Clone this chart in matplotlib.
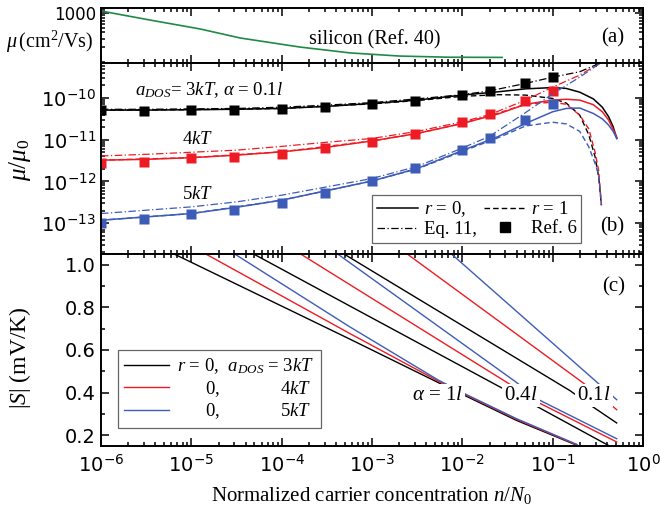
import numpy as np
import matplotlib.pyplot as plt
from matplotlib.lines import Line2D
from matplotlib.ticker import FuncFormatter, FixedLocator, MultipleLocator, NullFormatter

plt.rcParams['font.family'] = 'DejaVu Sans'
plt.rcParams['mathtext.fontset'] = 'custom'
plt.rcParams['mathtext.rm'] = 'Liberation Serif'
plt.rcParams['mathtext.it'] = 'Liberation Serif:italic'
plt.rcParams['mathtext.sf'] = 'DejaVu Sans'
plt.rcParams['mathtext.bf'] = 'Liberation Serif:bold'

BLACK, RED, BLUE, GREEN = 'black', '#ed1c24', '#3d5cb8', '#1f8a45'
SERIF = 'Liberation Serif'

# (a) silicon mobility, cm^2/Vs
si_logn = [-6, -5.46, -4.9, -4.46, -3.8, -3.24, -2.69, -2.14, -1.56]
si_mu = [1099, 719, 471, 309, 202, 153, 132, 125, 124]

# (b) log10(mu/mu0)
logn_r0 = [-6, -5.5, -5, -4.5, -4, -3.5, -3, -2.5, -2, -1.6, -1.3, -1.0, -0.85, -0.7, -0.55, -0.45, -0.38, -0.33, -0.29]
black_r0 = [-10.29, -10.29, -10.28, -10.27, -10.25, -10.2, -10.13, -10.05, -9.93, -9.85, -9.78, -9.75, -9.77, -9.86, -10.02, -10.22, -10.45, -10.69, -10.97]
red_r0 = [-11.49, -11.47, -11.43, -11.37, -11.29, -11.18, -11.03, -10.85, -10.61, -10.38, -10.15, -10.05, -10.03, -10.05, -10.16, -10.33, -10.53, -10.75, -10.94]
blue_r0 = [-12.93, -12.85, -12.77, -12.62, -12.45, -12.22, -11.99, -11.69, -11.26, -10.92, -10.61, -10.33, -10.25, -10.24, -10.37, -10.5, -10.65, -10.8, -10.97]

logn_r1 = [-6, -5, -4, -3, -2.5, -2, -1.6, -1.3, -1.0, -0.85, -0.7, -0.6, -0.53, -0.49, -0.46]
black_r1 = [-10.29, -10.28, -10.25, -10.14, -10.06, -9.96, -9.92, -9.93, -10.01, -10.12, -10.41, -10.88, -11.41, -11.9, -12.57]
red_r1 = [-11.49, -11.43, -11.29, -11.03, -10.85, -10.61, -10.36, -10.15, -10.1, -10.15, -10.41, -10.74, -11.3, -11.75, -12.57]
blue_r1 = [-12.93, -12.77, -12.45, -11.99, -11.7, -11.28, -10.95, -10.67, -10.58, -10.62, -10.8, -11.17, -11.57, -11.85, -12.57]

logn_eq = [-6, -5.5, -5, -4.5, -4, -3.5, -3, -2.5, -2, -1.7, -1.3, -1.0, -0.7, -0.47]
black_eq = [-10.27, -10.27, -10.26, -10.25, -10.22, -10.17, -10.11, -10.02, -9.92, -9.83, -9.65, -9.5, -9.37, -9.16]
red_eq = [-11.39, -11.35, -11.3, -11.25, -11.16, -11.06, -10.97, -10.8, -10.57, -10.4, -10.05, -9.74, -9.45, -9.16]
blue_eq = [-12.77, -12.69, -12.61, -12.49, -12.33, -12.13, -11.93, -11.64, -11.2, -10.92, -10.35, -9.9, -9.5, -9.16]

n_ref6 = [1e-6, 3e-6, 1e-5, 3e-5, 1e-4, 3e-4, 1e-3, 3e-3, 1e-2, 2e-2, 5e-2, 1e-1]
black_ref6 = [-10.29, -10.31, -10.29, -10.29, -10.26, -10.21, -10.14, -10.07, -9.92, -9.83, -9.65, -9.50]
red_ref6 = [-11.55, -11.53, -11.45, -11.41, -11.34, -11.21, -11.05, -10.86, -10.58, -10.39, -10.07, -9.82]
blue_ref6 = [-12.99, -12.91, -12.77, -12.69, -12.51, -12.27, -11.99, -11.67, -11.25, -10.97, -10.53, -10.15]

# (c) |S| in mV/K for alpha = 1l, 0.4l, 0.1l
logn_1l_k, S_1l_k = [-5.19, -3.24, -2.27, -1.94, -1.4, -0.73], [1.05, 0.65, 0.448, 0.38, 0.27, 0.153]
logn_1l_r, S_1l_r = [-4.84, -3.24, -2.27, -1.94, -1.4, -0.73], [1.05, 0.676, 0.455, 0.385, 0.275, 0.155]
logn_1l_b, S_1l_b = [-4.52, -3.24, -2.27, -1.94, -1.4, -0.73], [1.05, 0.707, 0.46, 0.388, 0.278, 0.157]
logn_04l_k, S_04l_k = [-4.31, -3.24, -1.58, -1.195, -0.384], [1.05, 0.805, 0.426, 0.34, 0.153]
logn_04l_r, S_04l_r = [-3.79, -3.24, -1.51, -1.14, -0.291], [1.05, 0.905, 0.449, 0.35, 0.169]
logn_04l_b, S_04l_b = [-3.38, -1.42, -1.14, -0.291], [1.05, 0.454, 0.364, 0.184]
logn_01l_k, S_01l_k = [-3.31, -0.81, -0.55, -0.291], [1.05, 0.41, 0.332, 0.258]
logn_01l_r, S_01l_r = [-2.61, -0.66, -0.346, -0.291], [1.05, 0.445, 0.34, 0.32]
logn_01l_b, S_01l_b = [-2.12, -0.51, -0.291], [1.05, 0.449, 0.367]

x_major = [1e-6, 1e-5, 1e-4, 1e-3, 1e-2, 1e-1, 1]

DD = (6, 2, 1, 2)
DA = (4, 2.2)


def sci(v, pos):
    return r'$\mathsf{10^{%d}}$' % int(round(np.log10(v)))


def log_minors(lo, hi):
    return [m * 10.0 ** e for e in range(lo, hi) for m in range(2, 10)]


fig = plt.figure(figsize=(6.6, 5.15), dpi=100)
L, W = 0.153, 0.8212
ax_a = fig.add_axes([L, 0.8777, W, 0.1068])
ax_b = fig.add_axes([L, 0.5068, W, 0.3709], sharex=ax_a)
ax_c = fig.add_axes([L, 0.1340, W, 0.3728], sharex=ax_a)

ax_a.set_xscale('log')
ax_a.set_xlim(1e-6, 1)
ax_a.xaxis.set_major_locator(FixedLocator(x_major))
ax_a.xaxis.set_minor_locator(FixedLocator(log_minors(-6, 0)))
for ax in (ax_a, ax_b, ax_c):
    ax.tick_params(which='both', direction='in', top=True, right=True, width=1.1, labelsize=14)
    ax.tick_params(which='major', length=5.5)
    ax.tick_params(which='minor', length=2.8)
    for s in ax.spines.values():
        s.set_linewidth(1.4)
ax_a.tick_params(labelbottom=False)
ax_b.tick_params(labelbottom=False)
ax_c.tick_params(labelbottom=True)
ax_a.xaxis.set_major_formatter(FuncFormatter(sci))
ax_a.xaxis.set_minor_formatter(NullFormatter())
ax_c.tick_params(axis='x', pad=6)

# (a)
ax_a.plot(10.0 ** np.array(si_logn), si_mu, color=GREEN, lw=1.2)
ax_a.set_yscale('log')
ax_a.set_ylim(95.4, 1265)
ax_a.yaxis.set_major_locator(FixedLocator([1000]))
ax_a.yaxis.set_minor_locator(FixedLocator([m * 100 for m in range(1, 10)] + [1100, 1200]))
ax_a.yaxis.set_major_formatter(FuncFormatter(lambda v, p: '1000'))
ax_a.yaxis.set_minor_formatter(NullFormatter())
ax_a.tick_params(axis='y', labelsize=12)
ax_a.text(0.506, 0.42, 'silicon (Ref. 40)', transform=ax_a.transAxes, family=SERIF,
          fontsize=14.5, ha='center', va='center')
ax_a.text(0.945, 0.45, '(a)', transform=ax_a.transAxes, family=SERIF, fontsize=15,
          ha='center', va='center')
fig.text(50 / 660, 1 - 42 / 515, r'$\mu\,\mathrm{(cm^2/Vs)}$', fontsize=14.5, ha='center', va='center')

# (b)
for c, r0, r1, eq, sq in ((BLACK, black_r0, black_r1, black_eq, black_ref6),
                          (RED, red_r0, red_r1, red_eq, red_ref6),
                          (BLUE, blue_r0, blue_r1, blue_eq, blue_ref6)):
    ax_b.plot(10.0 ** np.array(logn_r0), 10.0 ** np.array(r0), color=c, lw=1.1)
    ax_b.plot(10.0 ** np.array(logn_r1), 10.0 ** np.array(r1), color=c, lw=1.0, dashes=DA)
    ax_b.plot(10.0 ** np.array(logn_eq), 10.0 ** np.array(eq), color=c, lw=0.9, dashes=DD)
    ax_b.plot(n_ref6, 10.0 ** np.array(sq), 's', color=c, ms=7, mec='none')
ax_b.set_yscale('log')
ax_b.set_ylim(10 ** -13.74, 10 ** -9.16)
ax_b.yaxis.set_major_locator(FixedLocator([1e-13, 1e-12, 1e-11, 1e-10]))
ax_b.yaxis.set_minor_locator(FixedLocator(log_minors(-14, -9)))
ax_b.yaxis.set_major_formatter(FuncFormatter(sci))
ax_b.yaxis.set_minor_formatter(NullFormatter())
ax_b.set_ylabel(r'$\mu/\mu_0$', fontsize=18)
ax_b.yaxis.set_label_coords(-0.125, 0.49)
ax_b.text(10 ** -4.8, 10 ** -9.81, r'$a_{DOS}$= 3$kT$, $\alpha$ = 0.1$l$', family=SERIF,
          fontsize=13.5, ha='center', va='center')
ax_b.text(10 ** -4.93, 10 ** -10.96, r'$4kT$', fontsize=13.5, ha='center', va='center')
ax_b.text(10 ** -4.93, 10 ** -12.28, r'$5kT$', fontsize=13.5, ha='center', va='center')
ax_b.text(0.943, 0.14, '(b)', transform=ax_b.transAxes, family=SERIF, fontsize=15,
          ha='center', va='center')
hb = [Line2D([], [], color=BLACK, lw=1.1),
      Line2D([], [], color=BLACK, lw=0.9, dashes=DD),
      Line2D([], [], color=BLACK, lw=1.0, dashes=DA),
      Line2D([], [], color=BLACK, ls='none', marker='s', ms=7)]
lb = [r'$r$ = 0,', 'Eq. 11,', r'$r$ = 1', 'Ref. 6']
leg_b = ax_b.legend(hb, lb, ncol=2, loc='lower left', bbox_to_anchor=(0.5, 0.058),
                    prop={'family': SERIF, 'size': 13.5}, fancybox=False, edgecolor='#666666',
                    framealpha=1, handlelength=2.2, handletextpad=0.3, columnspacing=0.4,
                    borderpad=0.25, labelspacing=0.1, borderaxespad=0)
leg_b.get_frame().set_linewidth(0.9)

# (c)
for x, y, c in ((logn_1l_k, S_1l_k, BLACK), (logn_1l_r, S_1l_r, RED), (logn_1l_b, S_1l_b, BLUE),
                (logn_04l_k, S_04l_k, BLACK), (logn_04l_r, S_04l_r, RED), (logn_04l_b, S_04l_b, BLUE),
                (logn_01l_k, S_01l_k, BLACK), (logn_01l_r, S_01l_r, RED), (logn_01l_b, S_01l_b, BLUE)):
    ax_c.plot(10.0 ** np.array(x), y, color=c, lw=1.0)
ax_c.set_ylim(0.15, 1.05)
ax_c.yaxis.set_major_locator(MultipleLocator(0.2))
ax_c.yaxis.set_minor_locator(MultipleLocator(0.1))
ax_c.yaxis.set_major_formatter(FuncFormatter(lambda v, p: '%.1f' % v))
ax_c.set_ylabel(r'$|S|\ \mathrm{(mV/K)}$', fontsize=17)
ax_c.yaxis.set_label_coords(-0.125, 0.46)
box = dict(facecolor='white', edgecolor='none', pad=1.5)
for lx, txt in ((-2.28, r'$\alpha$ = 1$l$'), (-1.35, r'0.4$l$'), (-0.542, r'0.1$l$')):
    ax_c.text(10 ** lx, 0.387, txt, family=SERIF, fontsize=15, ha='center', va='center', bbox=box)
ax_c.text(0.945, 0.83, '(c)', transform=ax_c.transAxes, family=SERIF, fontsize=15,
          ha='center', va='center')
hc = [Line2D([], [], color=c, lw=1.0) for c in (BLACK, RED, BLUE)]
lc = [r'$r$ = 0,  $a_{DOS}$ = 3$kT$',
      '      0,             4$kT$',
      '      0,             5$kT$']
leg_c = ax_c.legend(hc, lc, loc='lower left', bbox_to_anchor=(0.031, 0.094),
                    prop={'family': SERIF, 'size': 13.5}, fancybox=False, edgecolor='#666666',
                    framealpha=1, handlelength=2.4, handletextpad=0.4, borderpad=0.35,
                    labelspacing=0.15, borderaxespad=0)
leg_c.get_frame().set_linewidth(0.9)

fig.text(372 / 660, 1 - 495 / 515, r'Normalized carrier concentration $n/N_0$',
         family=SERIF, fontsize=15, ha='center', va='center')

fig.savefig('out.png', dpi=100)
